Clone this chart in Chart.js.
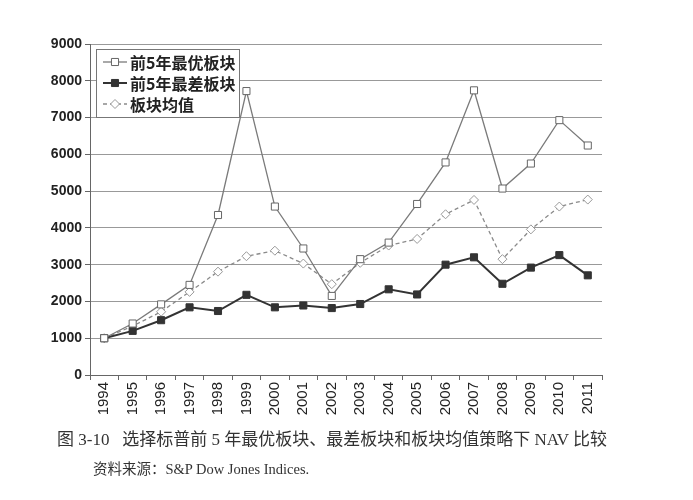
<!DOCTYPE html>
<html><head><meta charset="utf-8">
<script src="https://cdn.jsdelivr.net/npm/chart.js@4/dist/chart.umd.min.js"></script>
<style>
html,body{margin:0;padding:0;background:#fff;}
#wrap{position:relative;width:693px;height:500px;}
canvas{position:absolute;left:0;top:0;}
.cap{position:absolute;white-space:nowrap;color:#333;}
#cap1{left:57px;top:425px;font-family:"Liberation Serif","Noto Sans CJK SC";font-size:17px;}
#cap2{left:93px;top:457px;font-family:"Liberation Serif","Noto Sans CJK SC";font-size:14.5px;}
</style></head>
<body><div id="wrap"><canvas id="c" width="693" height="500"></canvas>
<div class="cap" id="cap1">图 3-10&nbsp;&nbsp;&nbsp;选择标普前 5 年最优板块、最差板块和板块均值策略下 NAV 比较</div>
<div class="cap" id="cap2">资料来源：S&amp;P Dow Jones Indices.</div>
</div>
<script>
const years = ["1994","1995","1996","1997","1998","1999","2000","2001","2002","2003","2004","2005","2006","2007","2008","2009","2010","2011"];
const bestSectors = [1000,1400,1920,2450,4350,7720,4580,3440,2150,3150,3600,4650,5780,7740,5070,5750,6930,6240];
const worstSectors = [1000,1200,1490,1840,1740,2180,1840,1890,1820,1930,2330,2190,3000,3200,2480,2920,3260,2710];
const sectorAverage = [1000,1330,1720,2260,2810,3230,3380,3030,2470,3050,3520,3700,4370,4760,3150,3960,4580,4770];
const seriesNames = ["前5年最优板块","前5年最差板块","板块均值"];
const yTicks = [0,1000,2000,3000,4000,5000,6000,7000,8000,9000];

const legendPlugin = {
  id: 'boxLegend',
  afterDatasetsDraw(chart) {
    const ctx = chart.ctx;
    const x0 = 96, y0 = 49, w = 143, h = 68;
    ctx.save();
    ctx.fillStyle = '#fff';
    ctx.fillRect(x0, y0, w, h);
    ctx.strokeStyle = '#777';
    ctx.lineWidth = 1;
    ctx.strokeRect(x0 + 0.5, y0 + 0.5, w, h);
    const rows = [62, 83, 104];
    chart.data.datasets.forEach((ds, i) => {
      const y = rows[i];
      ctx.strokeStyle = ds.borderColor;
      ctx.lineWidth = ds.borderWidth;
      ctx.setLineDash(ds.borderDash || []);
      ctx.beginPath();
      ctx.moveTo(103, y); ctx.lineTo(127, y);
      ctx.stroke();
      ctx.setLineDash([]);
      ctx.fillStyle = ds.pointBackgroundColor;
      ctx.strokeStyle = ds.pointBorderColor;
      ctx.lineWidth = ds.pointBorderWidth;
      Chart.helpers.drawPoint(ctx, {pointStyle: ds.pointStyle, radius: ds.pointRadius, borderWidth: ds.pointBorderWidth, rotation: 0}, 115, y);
      ctx.fillStyle = '#222';
      ctx.font = 'bold 16px "Noto Sans CJK SC"';
      ctx.textBaseline = 'middle';
      ctx.textAlign = 'left';
      ctx.fillText(ds.label, 130, y + 1);
    });
    ctx.restore();
  }
};

new Chart(document.getElementById('c'), {
  type: 'line',
  data: {
    labels: years,
    datasets: [
      { label: seriesNames[0], data: bestSectors, borderColor: '#7a7a7a', borderWidth: 1.3,
        pointStyle: 'rect', pointRadius: 5, pointBorderWidth: 1, pointBackgroundColor: '#fff', pointBorderColor: '#666', tension: 0 },
      { label: seriesNames[1], data: worstSectors, borderColor: '#333', borderWidth: 2,
        pointStyle: 'rect', pointRadius: 5, pointBorderWidth: 1, pointBackgroundColor: '#333', pointBorderColor: '#333', tension: 0 },
      { label: seriesNames[2], data: sectorAverage, borderColor: '#8a8a8a', borderWidth: 1.3, borderDash: [4, 3],
        pointStyle: 'rectRot', pointRadius: 4.5, pointBorderWidth: 1, pointBackgroundColor: '#fff', pointBorderColor: '#999', tension: 0 }
    ]
  },
  options: {
    responsive: false,
    animation: false,
    devicePixelRatio: 1,
    layout: { padding: { top: 44, right: 91, bottom: 75, left: 0 } },
    plugins: { legend: { display: false }, tooltip: { enabled: false } },
    scales: {
      x: {
        offset: true,
        afterFit(s) { s.height = 50; },
        grid: { display: true, offset: true, drawOnChartArea: false, drawTicks: true, tickLength: 5, color: '#666' },
        border: { display: true, color: '#666', width: 1 },
        ticks: { minRotation: 90, maxRotation: 90, padding: 2, color: '#222', font: { family: 'Liberation Sans', size: 15 } }
      },
      y: {
        min: 0, max: 9000,
        afterFit(s) { s.width = 90; },
        afterBuildTicks(s) { s.ticks = yTicks.map(v => ({ value: v })); },
        grid: { color: '#999', lineWidth: 1, tickLength: 5, tickColor: '#666' },
        border: { display: true, color: '#666', width: 1 },
        ticks: { padding: 3, color: '#222', callback: v => String(v), font: { family: 'Liberation Sans', size: 14, weight: 'bold' } }
      }
    }
  },
  plugins: [
    { id: 'bg', beforeDraw(c) { c.ctx.save(); c.ctx.fillStyle = '#fff'; c.ctx.fillRect(0, 0, c.width, c.height); c.ctx.restore(); } },
    legendPlugin
  ]
});
</script>
</body></html>
